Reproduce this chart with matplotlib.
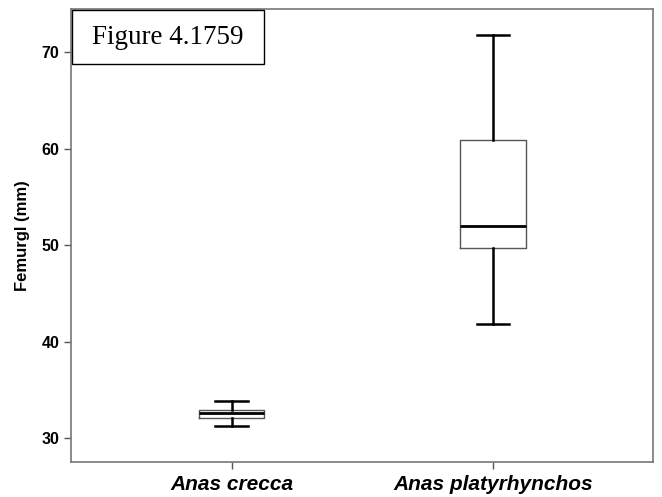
import matplotlib
matplotlib.use("Agg")
import matplotlib.pyplot as plt
from matplotlib.patches import Rectangle

# Box summaries
species = ['Anas crecca', 'Anas platyrhynchos']
whislo = [31.3, 41.9]
q1 = [32.1, 49.7]
medians = [32.6, 52.0]
q3 = [32.9, 60.9]
whishi = [33.9, 71.8]
yticks = [30, 40, 50, 60, 70]

stats = []
for i, name in enumerate(species):
    stats.append({'label': name, 'whislo': whislo[i], 'q1': q1[i], 'med': medians[i],
                  'q3': q3[i], 'whishi': whishi[i], 'fliers': []})

fig = plt.figure(figsize=(6.62, 4.97), dpi=100)
ax = fig.add_axes([0.1073, 0.0714, 0.8791, 0.9096])

ax.bxp(stats, positions=[1, 2], widths=0.25, capwidths=0.125, showfliers=False,
       boxprops=dict(color='#555555', linewidth=1.0),
       medianprops=dict(color='black', linewidth=2.0),
       whiskerprops=dict(color='black', linewidth=1.8),
       capprops=dict(color='black', linewidth=1.8))

ax.set_xlim(0.386, 2.612)
ax.set_ylim(27.6, 74.45)
ax.set_yticks(yticks)
ax.set_xticks([1, 2])
ax.set_xticklabels(species, fontfamily='Liberation Sans', fontweight='bold',
                   fontstyle='italic', fontsize=15)
for lbl in ax.get_yticklabels():
    lbl.set_fontfamily('Liberation Sans')
    lbl.set_fontweight('bold')
    lbl.set_fontsize(11.5)
ax.set_ylabel('Femurgl (mm)', fontfamily='Liberation Sans', fontweight='bold',
              fontsize=12, labelpad=8)

for s in ax.spines.values():
    s.set_color('#777777')
    s.set_linewidth(1.2)
ax.tick_params(axis='both', direction='out', length=5, color='#555555', width=1.0)
ax.tick_params(axis='x', pad=5)

# caption box in the top-left corner
ax.add_patch(Rectangle((0.0017, 0.8794), 0.33, 0.1195, transform=ax.transAxes,
                       facecolor='white', edgecolor='black', linewidth=1.0, zorder=5))
ax.text(0.1667, 0.939, 'Figure 4.1759', transform=ax.transAxes, ha='center', va='center',
        fontfamily='Liberation Serif', fontsize=19.5, zorder=6)

fig.savefig('out.png', dpi=100)
